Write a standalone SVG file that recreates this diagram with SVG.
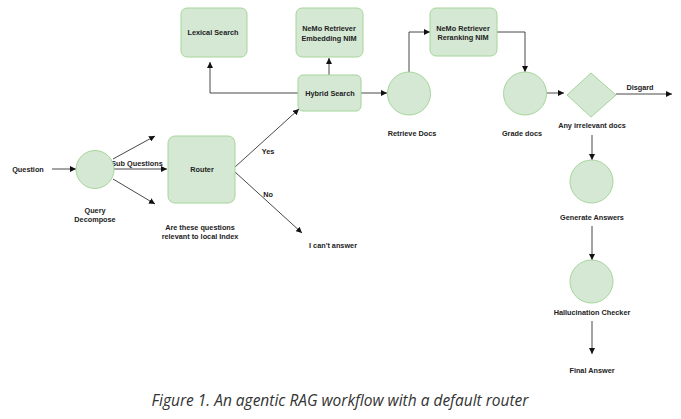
<svg xmlns="http://www.w3.org/2000/svg" width="681" height="419" viewBox="0 0 681 419">
<defs>
<style>
.n{fill:#d5e8d4;stroke:#a6d59a;stroke-width:1}
.t{font-family:"Liberation Sans",Arial,sans-serif;font-weight:bold;font-size:7.3px;fill:#222;text-anchor:middle;dominant-baseline:central}
.c{fill:none;stroke:#333;stroke-width:0.9}
.cap{font-family:"Open Sans","Liberation Sans",sans-serif;font-style:italic;font-size:15.5px;fill:#333;text-anchor:middle}
</style>
<marker id="a" viewBox="0 0 10 10" refX="10" refY="5" markerWidth="6" markerHeight="6" markerUnits="userSpaceOnUse" orient="auto"><path d="M0,0 L10,5 L0,10 z" fill="#111"/></marker>
</defs>
<rect width="681" height="419" fill="#fff"/>
<g id="connectors">
<path class="c" d="M52,169 L76,169" marker-end="url(#a)"/>
<path class="c" d="M113,159 L155,136" marker-end="url(#a)"/>
<path class="c" d="M114,169 L167,169" marker-end="url(#a)"/>
<path class="c" d="M113,179 L155,204" marker-end="url(#a)"/>
<path class="c" d="M235,167 L299,109" marker-end="url(#a)"/>
<path class="c" d="M235,172 L302,233" marker-end="url(#a)"/>
<path class="c" d="M329,75 L329,58" marker-end="url(#a)"/>
<path class="c" d="M298,93 L210,93 L210,62" marker-end="url(#a)"/>
<path class="c" d="M361,93 L387,93" marker-end="url(#a)"/>
<path class="c" d="M409,72 L409,32 L430,32" marker-end="url(#a)"/>
<path class="c" d="M497,32 L525,32 L525,72" marker-end="url(#a)"/>
<path class="c" d="M547,93 L564,93" marker-end="url(#a)"/>
<path class="c" d="M616,94 L672,94" marker-end="url(#a)"/>
<path class="c" d="M592,135 L592,160" marker-end="url(#a)"/>
<path class="c" d="M592,226 L592,260" marker-end="url(#a)"/>
<path class="c" d="M592,321 L592,354" marker-end="url(#a)"/>
<text class="t" x="137" y="163">Sub Questions</text>
<text class="t" x="268" y="151">Yes</text>
<text class="t" x="268" y="194">No</text>
<text class="t" x="640" y="87">Disgard</text>
</g>
<g id="question"><text class="t" x="28" y="169">Question</text></g>
<g id="query-decompose">
<circle class="n" cx="95" cy="169.5" r="19"/>
<text class="t" x="95" y="210">Query</text>
<text class="t" x="95" y="219">Decompose</text>
</g>
<g id="router">
<rect class="n" x="168" y="136" width="67" height="67" rx="7"/>
<text class="t" x="202" y="169">Router</text>
<text class="t" x="200" y="227">Are these questions</text>
<text class="t" x="200" y="236">relevant to local Index</text>
</g>
<g id="cant-answer"><text class="t" x="333" y="245">I can't answer</text></g>
<g id="lexical-search">
<rect class="n" x="181" y="8" width="66" height="49" rx="6"/>
<text class="t" x="213" y="32">Lexical Search</text>
</g>
<g id="embedding-nim">
<rect class="n" x="296" y="8" width="67" height="49" rx="6"/>
<text class="t" x="329" y="28">NeMo Retriever</text>
<text class="t" x="329" y="38">Embedding NIM</text>
</g>
<g id="hybrid-search">
<rect class="n" x="298" y="75" width="63" height="36" rx="5"/>
<text class="t" x="330" y="93">Hybrid Search</text>
</g>
<g id="retrieve-docs">
<circle class="n" cx="409" cy="93.5" r="21.5"/>
<text class="t" x="412" y="133">Retrieve Docs</text>
</g>
<g id="reranking-nim">
<rect class="n" x="430" y="8" width="67" height="48" rx="6"/>
<text class="t" x="463" y="28">NeMo Retriever</text>
<text class="t" x="463" y="37">Reranking NIM</text>
</g>
<g id="grade-docs">
<circle class="n" cx="525" cy="93.5" r="21.5"/>
<text class="t" x="522" y="133">Grade docs</text>
</g>
<g id="irrelevant">
<path class="n" d="M591,73 L616,95 L591,117 L567,95 z"/>
<text class="t" x="592" y="125">Any irrelevant docs</text>
</g>
<g id="generate-answers">
<circle class="n" cx="591.5" cy="181.5" r="21.5"/>
<text class="t" x="592" y="217">Generate Answers</text>
</g>
<g id="hallucination-checker">
<circle class="n" cx="591.5" cy="281.5" r="21.5"/>
<text class="t" x="592" y="312">Hallucination Checker</text>
</g>
<g id="final-answer"><text class="t" x="592" y="370">Final Answer</text></g>
<text class="cap" x="340" y="406">Figure 1. An agentic RAG workflow with a default router</text>
</svg>
